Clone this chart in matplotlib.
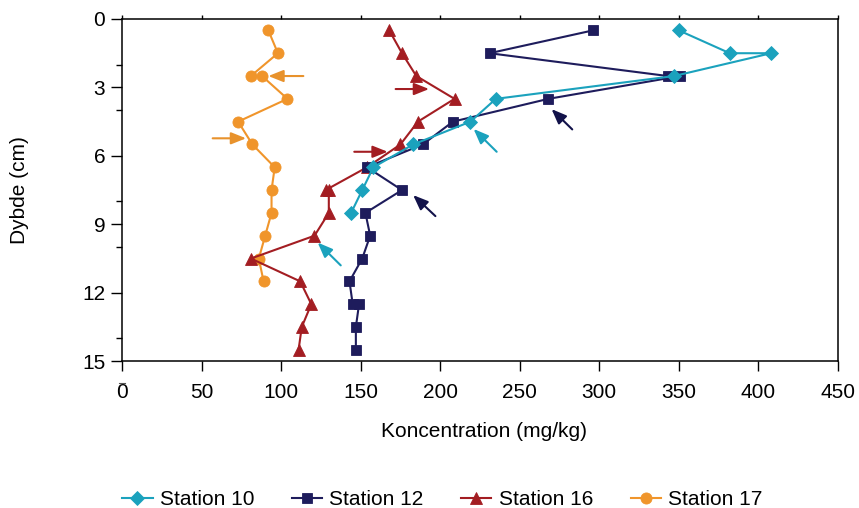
import matplotlib
matplotlib.use("Agg")
import matplotlib.pyplot as plt
from matplotlib.ticker import FixedLocator

plt.rcParams['font.family'] = ['Liberation Sans', 'DejaVu Sans']

# data (depth in cm, concentration in mg/kg)
d10 = [0.5, 1.5, 1.5, 2.5, 3.5, 4.5, 5.5, 6.5, 7.5, 8.5]
c10 = [350, 382, 408, 347, 235, 219, 183, 158, 151, 144]

d12 = [0.5, 1.5, 2.5, 2.5, 3.5, 4.5, 5.5, 6.5, 7.5, 8.5, 9.5, 10.5, 11.5, 12.5, 12.5, 13.5, 14.5]
c12 = [296, 231, 343, 351, 268, 208, 189, 154, 176, 153, 156, 151, 143, 145, 149, 147, 147]

d16 = [0.5, 1.5, 2.5, 3.5, 4.5, 5.5, 6.5, 7.5, 7.5, 8.5, 9.5, 10.5, 11.5, 12.5, 13.5, 14.5]
c16 = [168, 176, 185, 209, 186, 175, 154, 128, 130, 130, 121, 81, 112, 119, 113, 111]

d17 = [0.5, 1.5, 2.5, 2.5, 3.5, 4.5, 5.5, 6.5, 7.5, 8.5, 9.5, 10.5, 11.5]
c17 = [92, 98, 81, 88, 104, 73, 82, 96, 94, 94, 90, 86, 89]

labels = ["Station 10", "Station 12", "Station 16", "Station 17"]
colors = ["#1BA2BD", "#1E1C5C", "#A31D22", "#F0952B"]
arrow_colors = ["#1BA2BD", "#12124A", "#A31D22", "#E8922C"]

# arrows (tail x, tail y, tip x, tip y) per station
arr10 = [(235.5, 5.82, 221, 4.82), (137.5, 10.8, 123, 9.8)]
arr12 = [(283, 4.84, 270, 3.95), (197, 8.64, 183, 7.72)]
arr16 = [(172, 3.07, 193, 3.07), (146, 5.82, 167, 5.82)]
arr17 = [(114, 2.5, 92, 2.5), (57, 5.23, 78, 5.23)]

fig = plt.figure(figsize=(8.59, 5.08), dpi=100)
ax = fig.add_axes([0.142, 0.289, 0.8335, 0.6736])

series = [(c10, d10, 'D', 7.5), (c12, d12, 's', 7.5), (c16, d16, '^', 9), (c17, d17, 'o', 8)]
for i, (c, d, mk, ms) in enumerate(series):
    ax.plot(c, d, marker=mk, markersize=ms, color=colors[i], lw=1.5,
            markeredgewidth=0.6, markeredgecolor=colors[i], label=labels[i], zorder=6 - i)

for i, arrs in enumerate([arr10, arr12, arr16, arr17]):
    for (tx, ty, hx, hy) in arrs:
        ax.annotate("", xy=(hx, hy), xytext=(tx, ty),
                    arrowprops=dict(arrowstyle="-|>,head_length=0.9,head_width=0.36",
                                    color=arrow_colors[i], lw=1.5, mutation_scale=10,
                                    shrinkA=0, shrinkB=0))

ax.set_xlim(0, 450)
ax.set_ylim(15, 0)
ax.set_xticks(range(0, 451, 50))
ax.set_yticks([0, 3, 6, 9, 12, 15])
ax.yaxis.set_minor_locator(FixedLocator([2, 4, 8, 10, 14]))

ax.tick_params(axis='x', which='major', direction='out', length=7, width=1, pad=9,
               labelsize=15, top=True, bottom=True)
ax.tick_params(axis='y', which='major', direction='out', length=8, width=1, pad=4, labelsize=15)
ax.tick_params(axis='y', which='minor', direction='out', length=4, width=1)
ax.tick_params(axis='x', which='minor', bottom=False, top=False)

# top ticks are shorter than bottom ones
for t in ax.xaxis.get_major_ticks():
    t.tick2line.set_markersize(3)

for s in ax.spines.values():
    s.set_linewidth(1.1)

ax.set_xlabel("Koncentration (mg/kg)", fontsize=15)
ax.set_ylabel("Dybde (cm)", fontsize=15)
ax.xaxis.set_label_coords(0.5056, -0.178)
ax.yaxis.set_label_coords(-0.13, 0.5)

# small stray dash above the 0 label
ax.plot([-1.8, 1.8], [15.95, 15.95], color='#555555', lw=0.8, clip_on=False)

fig.legend(loc='center', bbox_to_anchor=(0.515, 0.017), ncol=4, frameon=False,
           fontsize=15, handlelength=1.45, handletextpad=0.35, columnspacing=1.8)

fig.savefig("out.png", dpi=100)
